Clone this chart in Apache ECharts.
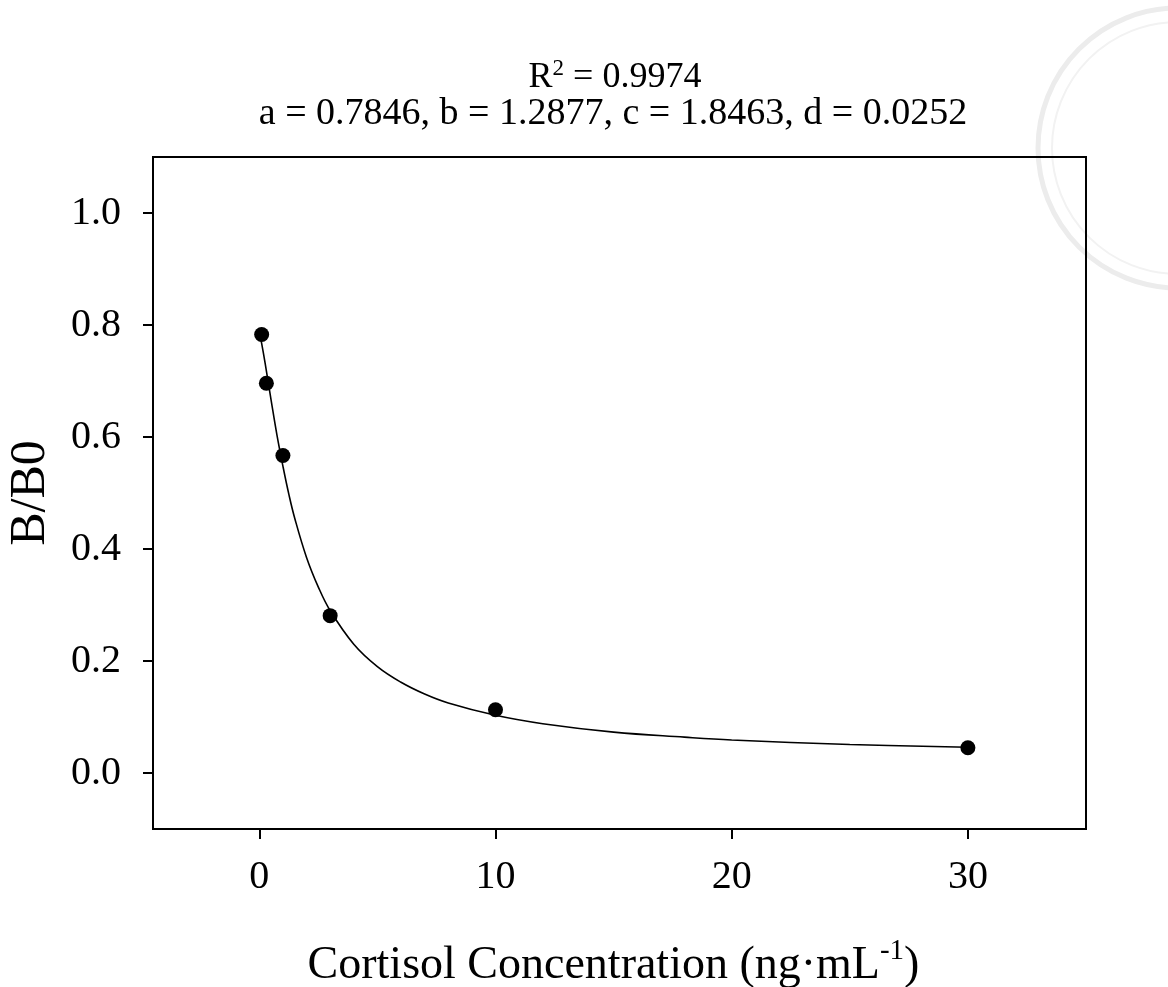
<!DOCTYPE html>
<html>
<head>
<meta charset="utf-8">
<script src="https://cdn.jsdelivr.net/npm/echarts@6/dist/echarts.min.js"></script>
<style>html,body{margin:0;padding:0;background:#fff;}#c{width:1168px;height:987px;}</style>
</head>
<body>
<div id="c"></div>
<script>
// measured standards
var concX = [0.1, 0.3, 1, 3, 10, 30];
var ratioY = [0.783, 0.696, 0.567, 0.281, 0.113, 0.045];
// fitted curve as traced
var curveX = [0, 0.05, 0.1, 0.25, 0.5, 0.75, 1, 1.25, 1.5, 2, 2.5, 3, 4, 5, 6, 7, 8, 10, 12, 15, 18, 20, 25, 30];
var curveY = [0.785, 0.777, 0.767, 0.731, 0.666, 0.603, 0.548, 0.498, 0.455, 0.385, 0.332, 0.290, 0.230, 0.190, 0.162, 0.141, 0.125, 0.103, 0.088, 0.073, 0.064, 0.059, 0.051, 0.046];
var xTicks = [0, 10, 20, 30];
var yTicks = [0, 0.2, 0.4, 0.6, 0.8, 1.0];
var titleLine1 = ['R', '2', ' = 0.9974'];
var titleLine2 = 'a = 0.7846, b = 1.2877, c = 1.8463, d = 0.0252';
var xName = ['Cortisol Concentration (ng\u00B7mL', '-1', ')'];
var yName = 'B/B0';

var FONT = '"Liberation Serif", "Times New Roman", serif';
var chart = echarts.init(document.getElementById('c'), null, {renderer: 'canvas'});

function pairs(xs, ys) { return xs.map(function (x, i) { return [x, ys[i]]; }); }

chart.setOption({
  backgroundColor: '#fff',
  animation: false,
  title: [{
    left: 610, top: 52, textAlign: 'center',
    text: '{n|' + titleLine1[0] + '}{s|' + titleLine1[1] + '}{n|' + titleLine1[2] + '}',
    textStyle: {
      fontWeight: 'normal',
      rich: {
        n: {fontFamily: FONT, fontSize: 36, fontWeight: 'normal', color: '#000', lineHeight: 39, verticalAlign: 'bottom'},
        s: {fontFamily: FONT, fontSize: 23, fontWeight: 'normal', color: '#000', lineHeight: 39, verticalAlign: 'top', padding: [0, 0, 14, 0]}
      }
    }
  }, {
    left: 608, top: 90, textAlign: 'center',
    text: titleLine2,
    textStyle: {fontFamily: FONT, fontSize: 38, fontWeight: 'normal', color: '#000'}
  }],
  grid: {left: 153, right: 82, top: 157, bottom: 158, show: true, borderColor: '#000', borderWidth: 2,
    backgroundColor: 'transparent', containLabel: false, outerBoundsMode: 'none'},
  xAxis: {
    type: 'value', min: -4.5, max: 35,
    name: '{n|' + xName[0] + '}{s|' + xName[1] + '}{n|' + xName[2] + '}',
    nameLocation: 'middle', nameGap: 108,
    nameTextStyle: {
      padding: [0, 12, 0, 0],
      rich: {
        n: {fontFamily: FONT, fontSize: 46, color: '#000', lineHeight: 52, verticalAlign: 'bottom'},
        s: {fontFamily: FONT, fontSize: 29, color: '#000', lineHeight: 52, verticalAlign: 'top'}
      }
    },
    axisLine: {show: true, onZero: false, lineStyle: {color: '#000', width: 2}},
    axisTick: {show: true, inside: false, length: 10, customValues: xTicks, lineStyle: {color: '#000', width: 2}},
    axisLabel: {customValues: xTicks, margin: 28, fontFamily: FONT, fontSize: 40, color: '#000'},
    splitLine: {show: false}
  },
  yAxis: {
    type: 'value', min: -0.1, max: 1.1,
    name: yName, nameLocation: 'middle', nameGap: 97, nameRotate: 90,
    nameTextStyle: {fontFamily: FONT, fontSize: 50, color: '#000'},
    axisLine: {show: true, onZero: false, lineStyle: {color: '#000', width: 2}},
    axisTick: {show: true, inside: false, length: 10, customValues: yTicks, lineStyle: {color: '#000', width: 2}},
    axisLabel: {customValues: yTicks, margin: 32, fontFamily: FONT, fontSize: 40, color: '#000',
      formatter: function (v) { return v.toFixed(1); }},
    splitLine: {show: false}
  },
  series: [{
    type: 'line',
    data: pairs(curveX, curveY),
    smooth: 0.4,
    showSymbol: false, symbol: 'none',
    lineStyle: {color: '#000', width: 1.6},
    z: 2
  }, {
    type: 'scatter',
    data: pairs(concX, ratioY),
    symbol: 'circle', symbolSize: 15,
    itemStyle: {color: '#000', opacity: 1},
    z: 3
  }],
  graphic: [{
    type: 'circle', silent: true, z: -1,
    shape: {cx: 1178, cy: 148, r: 140},
    style: {fill: 'none', stroke: '#ececec', lineWidth: 5}
  }, {
    type: 'circle', silent: true, z: -1,
    shape: {cx: 1178, cy: 148, r: 126},
    style: {fill: 'none', stroke: '#f2f2f2', lineWidth: 2}
  }]
});
</script>
</body>
</html>
